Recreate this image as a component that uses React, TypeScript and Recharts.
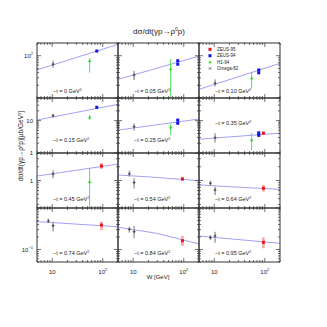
import React from 'react'
import { ComposedChart, XAxis, YAxis, Line, Scatter, ErrorBar } from 'recharts'

// W [GeV], shared by all panels
const wDomain: [number, number] = [5, 200]
const wLabels = [10, 100]

// log y range of each row of panels, and the labelled values
const rowDomains: [number, number][] = [
  [10, 200],
  [1, 50],
  [0.25, 4],
  [0.05, 1],
]
const rowLabels = [[100], [1, 10], [1], [0.1]]

const tLabels = ['0', '0.05', '0.10', '0.15', '0.25', '0.35', '0.45', '0.54', '0.64', '0.74', '0.84', '0.95']

// [W, dsigma/dt, low, high]
const omega82 = [
  [[10.4, 63, 52, 76]],
  [[10.4, 35, 26.6, 44.4]],
  [[10.4, 22.3, 18.6, 27.6]],
  [[10.4, 14.2, 12.3, 16.3]],
  [[10.4, 6.5, 4.9, 8.2]],
  [[10.4, 2.96, 2.1, 4.1]],
  [[10.4, 1.39, 1.12, 1.68]],
  [[8.4, 1.39, 1.21, 1.64], [10.4, 0.9, 0.67, 1.12]],
  [[8.4, 0.87, 0.76, 0.99], [10.4, 0.62, 0.48, 0.73]],
  [[8.4, 0.486, 0.43, 0.56], [10.4, 0.375, 0.27, 0.47]],
  [[8.4, 0.307, 0.254, 0.354], [10.4, 0.269, 0.186, 0.368]],
  [[8.4, 0.193, 0.169, 0.224], [10.4, 0.211, 0.146, 0.268]],
]

// [W, dsigma/dt]
const zeus94 = [
  [[76, 129]],
  [[76, 76], [76, 63]],
  [[76, 46], [76, 39.5]],
  [[76, 25.8]],
  [[76, 10.4], [76, 8.3]],
  [[76, 4.2], [76, 3.5]],
  [], [], [], [], [], [],
]

// [W, dsigma/dt, low, high]
const zeus95 = [
  [], [], [], [], [],
  [[94, 4.1, 3.8, 4.5]],
  [[94, 2.08, 1.78, 2.4]],
  [[94, 1.08, 0.98, 1.2]],
  [[94, 0.676, 0.57, 0.8]],
  [[94, 0.389, 0.29, 0.47]],
  [[94, 0.163, 0.122, 0.211]],
  [[94, 0.149, 0.107, 0.196]],
]

const h194 = [
  [[55, 76, 40, 87]],
  [[55, 48.7, 10, 83.6]],
  [[55, 29.7, 17, 39.5]],
  [[55, 12.6, 10.5, 15]],
  [[55, 6.2, 3.6, 7.8]],
  [[55, 2.5, 1.2, 4.1]],
  [[55, 0.94, 0.25, 1.85]],
  [], [], [], [], [],
]

// fitted curves, [W, dsigma/dt]
const fitCurves = [
  [[5, 46], [200, 186]],
  [[5, 27.5], [200, 98]],
  [[5, 16], [200, 66]],
  [[5, 10.4], [200, 31.9]],
  [[5, 5.1], [200, 11.2]],
  [[5, 2.67], [200, 4.1]],
  [[5, 1.25], [200, 2.29]],
  [[5, 1.32], [20, 1.2], [200, 0.99]],
  [[5, 0.8], [32, 0.71], [200, 0.64]],
  [[5, 0.47], [200, 0.354]],
  [[5, 0.343], [29, 0.246], [200, 0.136]],
  [[5, 0.211], [200, 0.141]],
]

const colX = [37, 118, 199]
const rowY = [43, 98, 153, 208]
const panelW = 81
const panelH = [55, 55, 55, 54]
const labelY = [91, 139.7, 199, 252.7]

const font = '"Liberation Sans", Arial, sans-serif'
const frame = '#333'
const fitColor = '#a0a0f2'

function logTicks([lo, hi]: [number, number]) {
  const out: number[] = []
  for (let e = Math.floor(Math.log10(lo)); e <= Math.ceil(Math.log10(hi)); e++) {
    for (let m = 1; m < 10; m++) {
      const v = +(m * Math.pow(10, e)).toPrecision(6)
      if (v >= lo * 0.999 && v <= hi * 1.001) out.push(v)
    }
  }
  return out
}

const isDecade = (v: number) => Math.abs(Math.log10(v) - Math.round(Math.log10(v))) < 1e-6

function powText(v: number) {
  const e = Math.round(Math.log10(v))
  if (e === 0) return <tspan>1</tspan>
  if (e === 1) return <tspan>10</tspan>
  return (
    <>
      <tspan>10</tspan>
      <tspan dy={-2.6} fontSize={4}>{e < 0 ? '\u2212' + -e : String(e)}</tspan>
    </>
  )
}

function tickShape(side: string, labels: number[] | null) {
  return (props: any) => {
    const { x, y, payload } = props
    const v = payload.value
    const len = isDecade(v) ? 4 : 2
    let p = { x1: x, x2: x, y1: y, y2: y }
    if (side === 'bottom') p.y2 = y - len
    if (side === 'top') p.y2 = y + len
    if (side === 'left') p.x2 = x + len
    if (side === 'right') p.x2 = x - len
    const hasLabel = labels && labels.some((l) => Math.abs(l - v) < 1e-9)
    return (
      <g>
        <line {...p} stroke={frame} strokeWidth={0.7} />
        {hasLabel && side === 'bottom' && (
          <text x={x} y={y + 12} textAnchor="middle" fontSize={6} fontFamily={font} fill="#222">
            {powText(v)}
          </text>
        )}
        {hasLabel && side === 'left' && (
          <text x={x - 4} y={y + 2} textAnchor="end" fontSize={6} fontFamily={font} fill="#222">
            {powText(v)}
          </text>
        )}
      </g>
    )
  }
}

const withErr = (pts: number[][]) =>
  pts.map(([x, y, lo, hi]) => ({ x, y, err: [y - lo, hi - y] }))

const Square = (color: string) => (p: any) =>
  <rect x={p.cx - 1.5} y={p.cy - 1.5} width={3} height={3} fill={color} />

const Triangle = (p: any) => (
  <path d={`M${p.cx},${p.cy - 1.8}L${p.cx + 1.7},${p.cy + 1.2}L${p.cx - 1.7},${p.cy + 1.2}Z`} fill="#22dd22" />
)

const Cross = (p: any) => (
  <path
    d={`M${p.cx - 1.4},${p.cy}L${p.cx + 1.4},${p.cy}M${p.cx},${p.cy - 1.4}L${p.cx},${p.cy + 1.4}`}
    stroke="#333"
    strokeWidth={0.8}
  />
)

function Panel({ index }: { index: number }) {
  const row = Math.floor(index / 3)
  const col = index % 3
  const yDomain = rowDomains[row]
  // axes take 1px each, so the plot box lands at colX/rowY
  const m = { top: 1, right: 1, bottom: row === 3 ? 19 : 1, left: col === 0 ? 33 : 1 }
  const h = panelH[row]
  const xTicks = logTicks(wDomain)
  const yTicks = logTicks(yDomain)
  const axisCommon = {
    type: 'number' as const,
    scale: 'log' as const,
    allowDataOverflow: true,
    interval: 0 as const,
    tickSize: 0,
    tickMargin: 0,
    tickLine: false,
    axisLine: { stroke: frame, strokeWidth: 1 },
  }

  return (
    <div style={{ position: 'absolute', left: colX[col] - m.left - 1, top: rowY[row] - m.top - 1 }}>
      <ComposedChart width={panelW + m.left + m.right + 2} height={h + m.top + m.bottom + 2} margin={m}>
        <XAxis {...axisCommon} xAxisId="b" orientation="bottom" dataKey="x" domain={wDomain} ticks={xTicks} height={1}
          tick={tickShape('bottom', row === 3 ? wLabels : null)} />
        <XAxis {...axisCommon} xAxisId="t" orientation="top" dataKey="x" domain={wDomain} ticks={xTicks} height={1}
          tick={tickShape('top', null)} />
        <YAxis {...axisCommon} yAxisId="l" orientation="left" dataKey="y" domain={yDomain} ticks={yTicks} width={1}
          tick={tickShape('left', col === 0 ? rowLabels[row] : null)} />
        <YAxis {...axisCommon} yAxisId="r" orientation="right" dataKey="y" domain={yDomain} ticks={yTicks} width={1}
          tick={tickShape('right', null)} />
        <Line xAxisId="b" yAxisId="l" data={fitCurves[index].map(([x, y]) => ({ x, y }))} dataKey="y"
          stroke={fitColor} strokeWidth={1} dot={false} isAnimationActive={false} />
        <Scatter xAxisId="b" yAxisId="l" data={withErr(omega82[index])} dataKey="y" shape={Cross} isAnimationActive={false}>
          <ErrorBar dataKey="err" direction="y" width={0} stroke="#a8a8a8" strokeWidth={1.6} />
        </Scatter>
        <Scatter xAxisId="b" yAxisId="l" data={withErr(h194[index])} dataKey="y" shape={Triangle} isAnimationActive={false}>
          <ErrorBar dataKey="err" direction="y" width={0} stroke="#55e055" strokeWidth={1} />
        </Scatter>
        <Scatter xAxisId="b" yAxisId="l" data={withErr(zeus95[index])} dataKey="y" shape={Square('#e8141a')} isAnimationActive={false}>
          <ErrorBar dataKey="err" direction="y" width={0} stroke="#f5a8a8" strokeWidth={2.6} />
        </Scatter>
        <Scatter xAxisId="b" yAxisId="l" data={zeus94[index].map(([x, y]) => ({ x, y }))} dataKey="y"
          shape={Square('#1010ee')} isAnimationActive={false} />
      </ComposedChart>
    </div>
  )
}

const legendItems = [
  { name: 'ZEUS-95', color: '#e8141a' },
  { name: 'ZEUS-94', color: '#1010ee' },
  { name: 'H1-94', color: '#22dd22' },
  { name: 'Omega-82', color: '#333' },
]

export default function App() {
  return (
    <div style={{ position: 'absolute', left: 0, top: 0, width: 327, height: 327, background: '#fff' }}>
      {tLabels.map((_, i) => (
        <Panel key={i} index={i} />
      ))}
      <svg width={327} height={327} style={{ position: 'absolute', left: 0, top: 0, pointerEvents: 'none' }}>
        <g fontFamily={font} fill="#222">
          <text x={159} y={33.5} textAnchor="middle" fontSize={8}>
            d{'\u03c3'}/dt({'\u03b3'}p{'\u2192'}{'\u03c1'}
            <tspan dy={-3} fontSize={5}>0</tspan>
            <tspan dy={3}>p)</tspan>
          </text>
          <text transform="translate(23,146) rotate(-90)" textAnchor="middle" fontSize={6.5}>
            d{'\u03c3'}/dt({'\u03b3'}p{'\u2192'}{'\u03c1'}
            <tspan dy={-2.5} fontSize={4}>0</tspan>
            <tspan dy={2.5}>p)[{'\u03bc'}b/GeV</tspan>
            <tspan dy={-2.5} fontSize={4}>2</tspan>
            <tspan dy={2.5}>]</tspan>
          </text>
          <text x={158} y={279} textAnchor="middle" fontSize={6}>W [GeV]</text>
          {tLabels.map((t, i) => {
            const row = Math.floor(i / 3)
            const col = i % 3
            const y = i === 5 ? 122.7 : labelY[row]
            return (
              <text key={t} x={colX[col] + 16} y={y + 1.8} fontSize={5.5}>
                {'\u2212'}t = {t} GeV
                <tspan dy={-2} fontSize={3.5}>2</tspan>
              </text>
            )
          })}
          {legendItems.map((it, k) => {
            const y = 49.3 + k * 6.4
            return (
              <g key={it.name}>
                {k < 2 && <rect x={208.5} y={y - 1.5} width={3} height={3} fill={it.color} />}
                {k === 2 && <path d={`M210,${y - 1.8}L211.7,${y + 1.2}L208.3,${y + 1.2}Z`} fill={it.color} />}
                {k === 3 && (
                  <path d={`M208.8,${y - 1.2}L211.2,${y + 1.2}M211.2,${y - 1.2}L208.8,${y + 1.2}`} stroke={it.color} strokeWidth={0.7} />
                )}
                <text x={217} y={y + 1.6} fontSize={4.5}>{it.name}</text>
              </g>
            )
          })}
        </g>
      </svg>
    </div>
  )
}
